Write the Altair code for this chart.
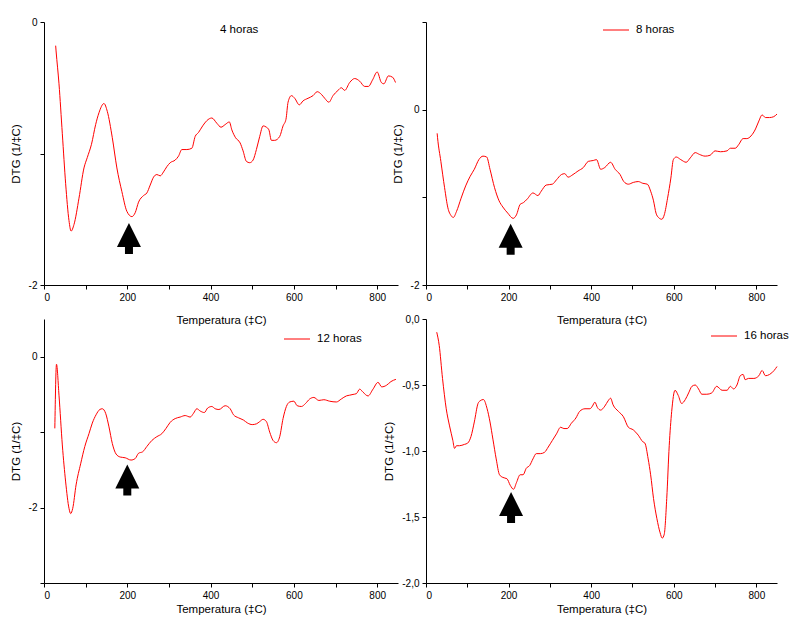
import altair as alt
import pandas as pd

# DTG curves: temperature (°C) and DTG (1/°C) for each treatment time
t_4h = [28, 29, 36, 44, 52, 60, 65, 72, 84, 96,
        104, 114, 124, 132, 144, 152, 164, 175, 187, 199,
        211, 219, 227, 239, 247, 255, 263, 271, 279, 287,
        295, 303, 315, 323, 331, 343, 355, 363, 371, 381,
        391, 403, 415, 425, 435, 445, 451, 460, 471, 478,
        486, 494, 502, 510, 518, 526, 534, 540, 546, 554,
        566, 574, 581, 586, 594, 602, 613, 622, 634, 646,
        656, 666, 674, 684, 694, 706, 714, 722, 734, 746,
        758, 770, 779, 789, 800, 810, 816, 827, 837, 844]
dtg_4h = [-0.18, -0.22, -0.47, -0.85, -1.23, -1.51, -1.59, -1.54, -1.34, -1.11,
          -1.03, -0.93, -0.78, -0.69, -0.62, -0.68, -0.88, -1.11, -1.29, -1.44,
          -1.48, -1.45, -1.37, -1.32, -1.30, -1.24, -1.18, -1.16, -1.17, -1.14,
          -1.10, -1.07, -1.05, -1.02, -0.97, -0.97, -0.96, -0.87, -0.84, -0.79,
          -0.75, -0.73, -0.77, -0.80, -0.78, -0.76, -0.82, -0.88, -0.92, -0.98,
          -1.06, -1.07, -1.05, -0.97, -0.87, -0.79, -0.80, -0.82, -0.90, -0.90,
          -0.87, -0.79, -0.74, -0.61, -0.56, -0.58, -0.63, -0.60, -0.58, -0.56,
          -0.53, -0.55, -0.58, -0.61, -0.56, -0.52, -0.50, -0.52, -0.46, -0.43,
          -0.45, -0.49, -0.49, -0.44, -0.38, -0.46, -0.47, -0.41, -0.42, -0.46]

t_8h = [27, 28, 36, 45, 53, 61, 66, 74, 85, 96,
        107, 117, 128, 138, 147, 155, 166, 177, 186, 198,
        211, 219, 228, 236, 245, 259, 271, 279, 291, 306,
        316, 328, 336, 344, 356, 368, 381, 393, 405, 413,
        423, 433, 447, 458, 470, 479, 490, 502, 514, 525,
        536, 544, 551, 557, 563, 571, 577, 585, 593, 599,
        606, 617, 630, 640, 652, 662, 676, 688, 700, 713,
        729, 737, 749, 757, 768, 777, 787, 798, 806, 814,
        822, 832, 842, 850]
dtg_8h = [-0.27, -0.32, -0.59, -0.89, -1.12, -1.21, -1.23, -1.16, -1.01, -0.87,
          -0.76, -0.68, -0.57, -0.53, -0.54, -0.68, -0.89, -1.04, -1.11, -1.18,
          -1.24, -1.20, -1.08, -1.06, -1.02, -0.95, -0.98, -0.93, -0.86, -0.85,
          -0.80, -0.74, -0.73, -0.77, -0.74, -0.70, -0.66, -0.59, -0.58, -0.57,
          -0.68, -0.66, -0.60, -0.68, -0.74, -0.82, -0.85, -0.83, -0.82, -0.84,
          -0.85, -0.93, -1.04, -1.18, -1.23, -1.25, -1.20, -1.01, -0.78, -0.57,
          -0.54, -0.57, -0.60, -0.55, -0.49, -0.51, -0.53, -0.52, -0.47, -0.48,
          -0.47, -0.44, -0.44, -0.40, -0.33, -0.33, -0.30, -0.22, -0.13, -0.06,
          -0.09, -0.09, -0.08, -0.05]

t_12h = [26, 30, 36, 44, 52, 60, 64, 69, 77, 88,
         98, 108, 116, 125, 134, 140, 148, 156, 164, 173,
         183, 195, 209, 219, 227, 237, 247, 259, 271, 283,
         293, 303, 315, 327, 339, 351, 359, 367, 375, 385,
         393, 403, 411, 420, 435, 447, 455, 467, 479, 489,
         500, 510, 518, 526, 534, 542, 550, 558, 566, 574,
         582, 590, 600, 608, 618, 628, 638, 648, 660, 672,
         686, 702, 714, 726, 734, 742, 750, 758, 766, 778,
         790, 802, 811, 822, 833, 845]
dtg_12h = [-0.95, -0.10, -0.51, -1.17, -1.66, -2.01, -2.08, -2.01, -1.70, -1.42,
           -1.19, -1.02, -0.88, -0.77, -0.70, -0.69, -0.75, -0.93, -1.15, -1.29,
           -1.33, -1.34, -1.37, -1.35, -1.28, -1.26, -1.19, -1.11, -1.06, -1.02,
           -0.95, -0.87, -0.82, -0.80, -0.78, -0.80, -0.75, -0.69, -0.72, -0.74,
           -0.68, -0.66, -0.69, -0.70, -0.65, -0.69, -0.77, -0.81, -0.84, -0.88,
           -0.90, -0.89, -0.86, -0.83, -0.86, -1.00, -1.11, -1.14, -1.06, -0.82,
           -0.66, -0.60, -0.59, -0.65, -0.66, -0.62, -0.56, -0.54, -0.58, -0.57,
           -0.59, -0.60, -0.56, -0.52, -0.51, -0.50, -0.49, -0.43, -0.47, -0.52,
           -0.43, -0.34, -0.40, -0.38, -0.33, -0.30]

t_16h = [26, 32, 40, 49, 57, 65, 69, 74, 81, 93,
         101, 109, 117, 126, 131, 139, 148, 155, 162, 170,
         178, 186, 196, 204, 212, 219, 228, 235, 243, 251,
         259, 267, 277, 287, 296, 306, 316, 326, 334, 342,
         352, 363, 372, 385, 397, 403, 409, 415, 423, 433,
         441, 447, 453, 466, 478, 490, 502, 514, 525, 530,
         538, 544, 551, 559, 567, 572, 577, 583, 589, 595,
         603, 611, 619, 628, 636, 644, 652, 660, 668, 680,
         692, 704, 717, 729, 737, 745, 753, 761, 768, 773,
         781, 794, 806, 814, 822, 832, 843, 850]
dtg_16h = [-0.10, -0.20, -0.45, -0.68, -0.81, -0.92, -0.98, -0.96, -0.96, -0.95,
           -0.94, -0.89, -0.78, -0.64, -0.62, -0.61, -0.68, -0.78, -0.91, -1.06,
           -1.18, -1.20, -1.21, -1.26, -1.29, -1.24, -1.18, -1.18, -1.13, -1.11,
           -1.06, -1.02, -1.02, -1.01, -0.97, -0.92, -0.87, -0.82, -0.83, -0.83,
           -0.79, -0.75, -0.70, -0.68, -0.68, -0.66, -0.63, -0.67, -0.69, -0.66,
           -0.62, -0.60, -0.65, -0.70, -0.74, -0.82, -0.84, -0.88, -0.93, -0.94,
           -1.06, -1.18, -1.36, -1.51, -1.62, -1.66, -1.63, -1.36, -0.96, -0.70,
           -0.54, -0.58, -0.64, -0.61, -0.56, -0.51, -0.50, -0.53, -0.57, -0.57,
           -0.56, -0.51, -0.54, -0.54, -0.51, -0.53, -0.50, -0.43, -0.42, -0.46,
           -0.45, -0.45, -0.43, -0.39, -0.43, -0.42, -0.39, -0.36]

series_labels = ["4 horas", "8 horas", "12 horas", "16 horas"]

# Arrow markers under the ~200 °C event (temperature, DTG of the arrow centre)
arrow_t = [204, 205, 200, 206]
arrow_dtg = [-1.646, -1.477, -1.636, -1.428]

x_ticks = [0, 100, 200, 300, 400, 500, 600, 700, 800]

RED = "#ff0000"
FONT = "Liberation Sans"
X_TITLE = "Temperatura (‡C)"
Y_TITLE = "DTG (1/‡C)"
ARROW = ("M0,-1 L0.774,0.548 L0.258,0.548 L0.258,1 L-0.258,1 "
         "L-0.258,0.548 L-0.774,0.548 Z")

INT_LABELS = "datum.value == 0 ? '0' : (datum.value == -2 ? '-2' : '')"
COMMA_LABELS = ("datum.value * 2 == round(datum.value * 2) ? "
                "((datum.value < 0 ? '-' : '') + "
                "replace(format(abs(datum.value), '.1f'), '.', ',')) : ''")


def panel(t, v, label, y_domain, y_ticks, label_expr, width, height,
          a_t, a_v, key_pos, key_line, x_title_pad):
    df = pd.DataFrame({"T": t, "DTG": v})
    x = alt.X("T:Q",
              scale=alt.Scale(domain=[0, 850], nice=False, zero=False),
              axis=alt.Axis(values=x_ticks, title=X_TITLE,
                            titlePadding=x_title_pad,
                            labelExpr="datum.value % 200 == 0 ? datum.label : ''"))
    y = alt.Y("DTG:Q",
              scale=alt.Scale(domain=y_domain, nice=False, zero=False),
              axis=alt.Axis(values=y_ticks, title=Y_TITLE, titlePadding=7,
                            labelExpr=label_expr))
    line = alt.Chart(df).mark_line(
        color=RED, strokeWidth=1, interpolate="monotone"
    ).encode(x=x, y=y)

    arrow = alt.Chart(pd.DataFrame({"T": [a_t], "DTG": [a_v]})).mark_point(
        shape=ARROW, size=961, filled=True, color="black", opacity=1,
        strokeWidth=0
    ).encode(x="T:Q", y="DTG:Q")

    kx, ky = key_pos
    key_text = alt.Chart(pd.DataFrame({"label": [label]})).mark_text(
        align="left", baseline="middle", font=FONT, fontSize=11.5,
        color="black"
    ).encode(x=alt.value(kx + (33 if key_line else 0)), y=alt.value(ky),
             text="label:N")

    layers = [line, arrow, key_text]
    if key_line:
        key_rule = alt.Chart(pd.DataFrame({"label": [label]})).mark_rule(
            color=RED, strokeWidth=1
        ).encode(x=alt.value(kx), x2=alt.value(kx + 26), y=alt.value(ky))
        layers.append(key_rule)
    return alt.layer(*layers).properties(width=width, height=height)


p1 = panel(t_4h, dtg_4h, series_labels[0], [-2, 0], [0, -1, -2], INT_LABELS,
           354, 263, arrow_t[0], arrow_dtg[0], (176, 8), False, 12)
p2 = panel(t_8h, dtg_8h, series_labels[1], [-2, 1], [1, 0, -1, -2], INT_LABELS,
           351, 263, arrow_t[1], arrow_dtg[1], (177, 8), True, 12)
p3 = panel(t_12h, dtg_12h, series_labels[2], [-3, 0.5], [0, -1, -2, -3],
           INT_LABELS, 354, 264, arrow_t[2], arrow_dtg[2], (240, 20), True, 3)
p4 = panel(t_16h, dtg_16h, series_labels[3], [-2, 0],
           [0, -0.25, -0.5, -0.75, -1, -1.25, -1.5, -1.75, -2], COMMA_LABELS,
           351, 264, arrow_t[3], arrow_dtg[3], (285, 17), True, 3)

chart = alt.concat(
    p1, p2, p3, p4, columns=2, spacing={"row": 34, "column": 28},
    bounds="flush"
).properties(
    padding={"left": 9, "top": 16, "right": 0, "bottom": 0},
    background="white",
).configure_view(
    stroke="transparent"
).configure_axis(
    grid=False,
    domainColor="black", domainWidth=1,
    tickColor="black", tickWidth=1, tickSize=4,
    labelColor="black", labelFont=FONT, labelFontSize=10, labelPadding=3,
    titleColor="black", titleFont=FONT, titleFontSize=11.5,
    titleFontWeight="normal",
)

chart.save("out.html", embed_options={"renderer": "svg", "actions": False})
